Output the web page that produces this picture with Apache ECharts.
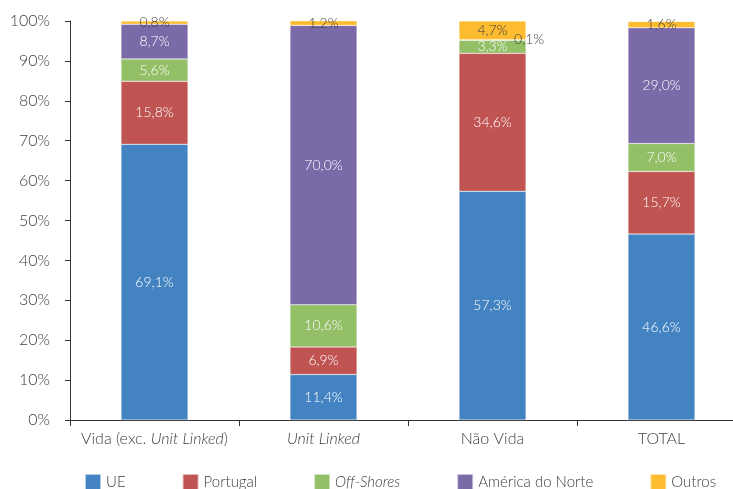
<!DOCTYPE html>
<html lang="pt">
<head>
    <meta charset="UTF-8">
    <title>Distribuição por origem</title>
    <script src="https://cdn.jsdelivr.net/npm/echarts@6/dist/echarts.min.js"></script>
    <style>
        html, body { margin: 0; padding: 0; background: #fff; overflow: hidden; }
        /* o eixo horizontal do original continua para lá da margem direita */
        #chart { width: 746px; height: 489px; }
    </style>
</head>
<body>
    <div id="chart"></div>
    <script>
        // categorias e valores (%)
        let categories = ['Vida (exc. {i|Unit Linked})', '{i|Unit Linked}', 'Não Vida', 'TOTAL'];
        let seriesNames = ['UE', 'Portugal', 'Off-Shores', 'América do Norte', 'Outros'];
        let ueValues = [69.1, 11.4, 57.3, 46.6];
        let portugalValues = [15.8, 6.9, 34.6, 15.7];
        let offShoresValues = [5.6, 10.6, 3.3, 7.0];
        let americaValues = [8.7, 70.0, 0.1, 29.0];
        let outrosValues = [0.8, 1.2, 4.7, 1.6];
        let yTicks = [0, 10, 20, 30, 40, 50, 60, 70, 80, 90, 100];

        let colors = ['#4383c2', '#bf5452', '#93bf67', '#7a6aa8', '#fdbb30'];
        let fontFamily = 'Lato, "Noto Sans", sans-serif';
        let textColor = '#404040';

        function fmt(v) {
            return v.toFixed(1).replace('.', ',') + '%';
        }

        function makeSeries(name, values, idx) {
            let dark = idx === 4;
            return {
                name: name,
                type: 'bar',
                stack: 'total',
                barWidth: 67,
                itemStyle: { color: colors[idx], borderColor: 'rgba(255,255,255,0.6)', borderWidth: 0.5 },
                label: {
                    show: true,
                    position: 'inside',
                    color: dark ? textColor : '#ffffff',
                    fontFamily: fontFamily,
                    fontSize: 14,
                    fontWeight: 300,
                    formatter: p => fmt(p.value)
                },
                data: values.map((v, i) => {
                    // 0,1% da América do Norte em Não Vida fica ao lado da barra
                    if (idx === 3 && v < 1) {
                        return { value: v, label: { position: 'right', offset: [-17, 0], color: textColor } };
                    }
                    return v;
                })
            };
        }

        let chart = echarts.init(document.getElementById('chart'));
        chart.setOption({
            animation: false,
            textStyle: { fontFamily: fontFamily },
            grid: { left: 70, right: 0, top: 21, bottom: 69, containLabel: false },
            legend: {
                left: 84,
                top: 473,
                padding: 0,
                itemWidth: 16,
                itemHeight: 16,
                itemGap: 56,
                icon: 'rect',
                textStyle: {
                    color: textColor,
                    fontSize: 15,
                    fontWeight: 300,
                    fontFamily: fontFamily,
                    rich: { i: { fontStyle: 'italic', fontSize: 15, fontWeight: 300, color: textColor, fontFamily: fontFamily } }
                },
                formatter: name => name === 'Off-Shores' ? '{i|Off-Shores}' : name,
                data: seriesNames
            },
            xAxis: {
                type: 'category',
                data: categories,
                axisLine: { lineStyle: { color: '#333', width: 1 } },
                axisTick: { show: true, length: 6, lineStyle: { color: '#333' } },
                axisLabel: {
                    interval: 0,
                    color: textColor,
                    fontSize: 16,
                    fontWeight: 300,
                    margin: 11,
                    fontFamily: fontFamily,
                    rich: { i: { fontStyle: 'italic', fontSize: 16, fontWeight: 300, color: textColor, fontFamily: fontFamily } }
                }
            },
            yAxis: {
                type: 'value',
                min: yTicks[0],
                max: yTicks[yTicks.length - 1],
                interval: 10,
                axisLine: { show: true, lineStyle: { color: '#333', width: 1 } },
                axisTick: { show: true, length: 5, lineStyle: { color: '#333' } },
                splitLine: { show: false },
                axisLabel: {
                    color: textColor,
                    fontSize: 16,
                    fontWeight: 300,
                    margin: 20,
                    fontFamily: fontFamily,
                    formatter: '{value}%'
                }
            },
            series: [
                makeSeries(seriesNames[0], ueValues, 0),
                makeSeries(seriesNames[1], portugalValues, 1),
                makeSeries(seriesNames[2], offShoresValues, 2),
                makeSeries(seriesNames[3], americaValues, 3),
                makeSeries(seriesNames[4], outrosValues, 4)
            ]
        });
    </script>
</body>
</html>
